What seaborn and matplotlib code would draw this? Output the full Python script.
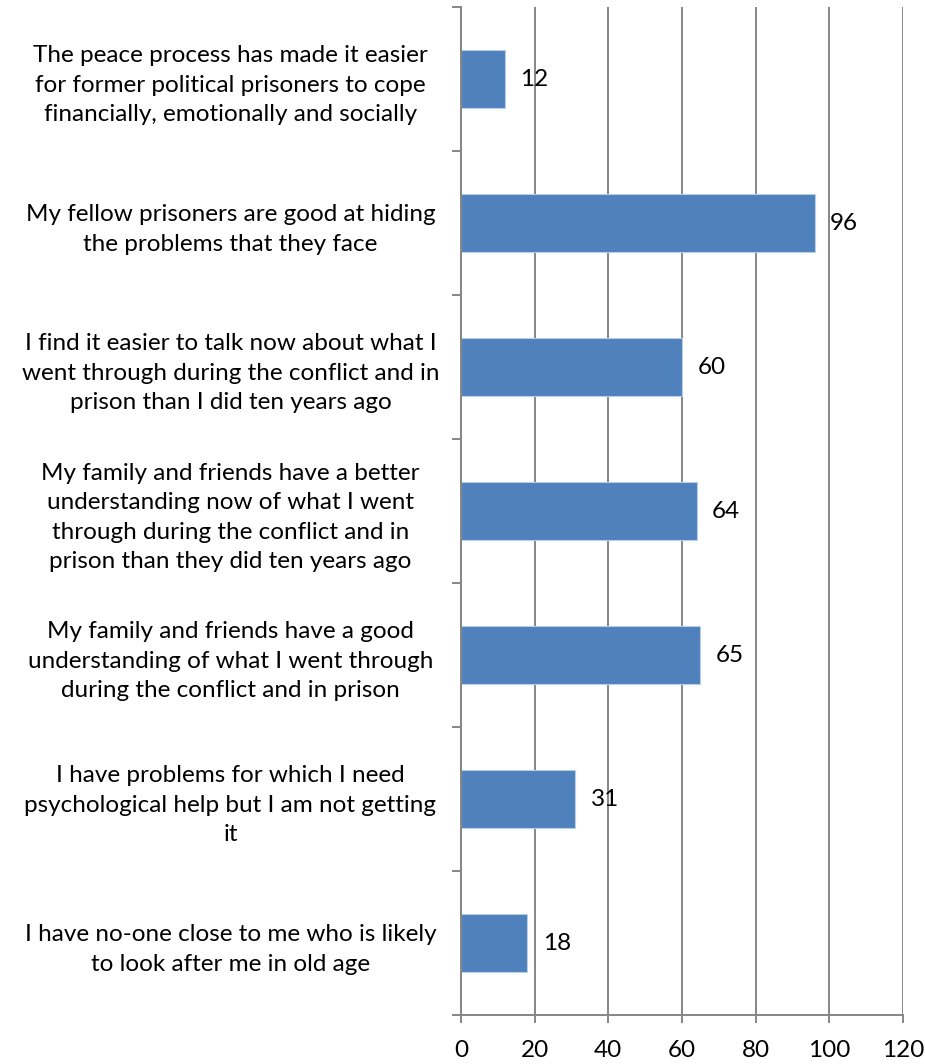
import matplotlib
matplotlib.use("Agg")
import matplotlib.pyplot as plt
import seaborn as sns
import pandas as pd

statements = [
    "The peace process has made it easier\nfor former political prisoners to cope\nfinancially, emotionally and socially",
    "My fellow prisoners are good at hiding\nthe problems that they face",
    "I find it easier to talk now about what I\nwent through during the conflict and in\nprison than I did ten years ago",
    "My family and friends have a better\nunderstanding now of what I went\nthrough during the conflict and in\nprison than they did ten years ago",
    "My family and friends have a good\nunderstanding of what I went through\nduring the conflict and in prison",
    "I have problems for which I need\npsychological help but I am not getting\nit",
    "I have no-one close to me who is likely\nto look after me in old age",
]
percent = [12, 96, 60, 64, 65, 31, 18]
x_ticks = [0, 20, 40, 60, 80, 100, 120]

df = pd.DataFrame({"statement": statements, "percent": percent})

sns.set_theme(style="white")
plt.rcParams["font.family"] = ["Lato", "DejaVu Sans"]
FS = 17.5

W, H = 925, 1064
fig = plt.figure(figsize=(W / 100, H / 100), dpi=100)
ax = fig.add_axes([461 / W, 1 - 1015 / H, (903 - 461) / W, (1015 - 7) / H])

sns.barplot(data=df, y="statement", x="percent", orient="h", color="#4F81BD",
            width=0.4, saturation=1, edgecolor="#B9CDE5", linewidth=0.8, ax=ax)

ax.set_xlim(0, 120)
ax.set_ylim(len(statements) - 0.5, -0.5)
ax.set_xticks(x_ticks)
ax.set_xticklabels([str(t) for t in x_ticks], fontsize=FS)
ax.set_xlabel("")
ax.set_ylabel("")

grid_color = "#868686"
ax.xaxis.grid(True, color=grid_color, linewidth=1.4)
ax.yaxis.grid(False)
ax.set_axisbelow(True)

for side in ("top", "right"):
    ax.spines[side].set_visible(False)
for side in ("left", "bottom"):
    ax.spines[side].set_color(grid_color)
    ax.spines[side].set_linewidth(1.4)

ax.tick_params(axis="x", which="major", bottom=True, length=6, width=1.4,
               color=grid_color, pad=12, labelcolor="black")

# category boundaries carry the tick marks on the vertical axis
ax.set_yticks([i - 0.5 for i in range(len(statements) + 1)], minor=True)
ax.tick_params(axis="y", which="minor", left=True, length=6.5, width=1.4, color=grid_color)
ax.tick_params(axis="y", which="major", left=False, length=0, pad=166)
for lbl in ax.get_yticklabels():
    lbl.set_horizontalalignment("center")
    lbl.set_multialignment("center")
    lbl.set_fontsize(FS)
    lbl.set_color("black")
    lbl.set_linespacing(1.5)

for i, v in enumerate(percent):
    ax.annotate(str(v), xy=(v, i), xytext=(11, 0), textcoords="offset points",
                ha="left", va="center", fontsize=FS, color="black")

fig.savefig("out.png", dpi=100, facecolor="white")
